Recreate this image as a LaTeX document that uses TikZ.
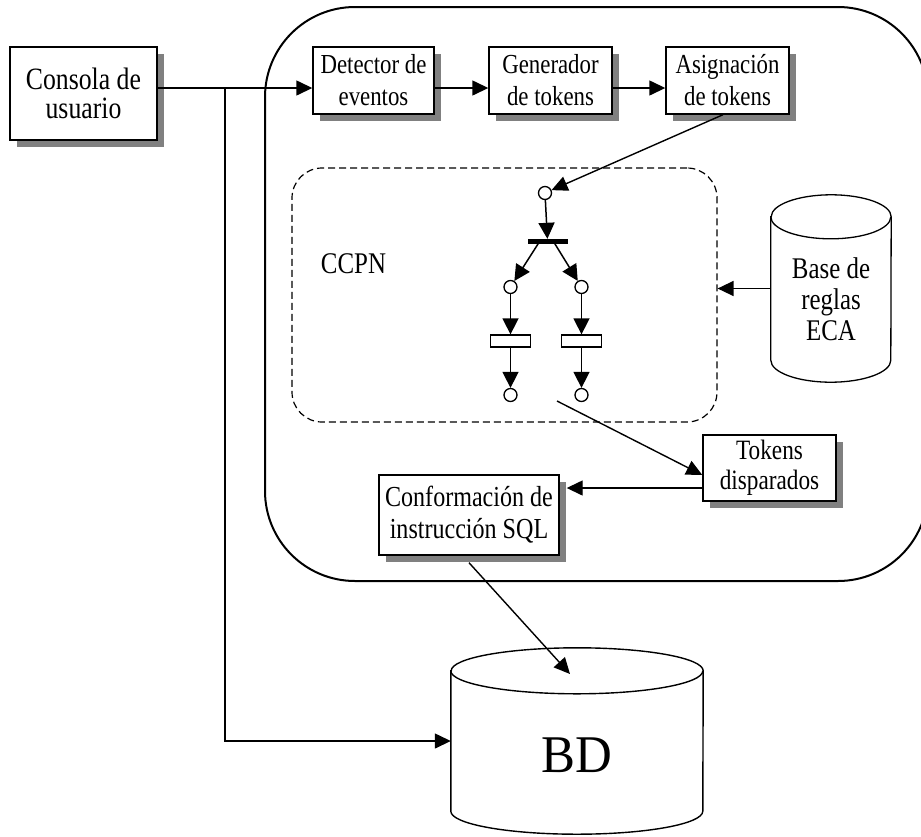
\documentclass[tikz,border=0pt]{standalone}
\usepackage{fontspec}
\setmainfont{Liberation Serif}[FakeStretch=0.83]
\newfontfamily\bdfont{Liberation Serif}[FakeStretch=0.96]
\usetikzlibrary{arrows.meta,shadows,calc}
\begin{document}
\begin{tikzpicture}[x=1pt,y=-1pt,
  box/.style={draw,line width=1.4pt,fill=white,inner sep=0pt,align=center,
    drop shadow={shadow xshift=7pt,shadow yshift=-7pt,fill=black!50,opacity=1}},
  arr/.style={line width=1.4pt,-{Triangle[length=16pt,width=15pt]}},
  parr/.style={line width=1.5pt,-{Triangle[length=16pt,width=16pt]}},
  place/.style={draw,circle,line width=1.3pt,minimum size=13pt,inner sep=0pt,fill=white},
  trans/.style={draw,line width=1.3pt,minimum width=40pt,minimum height=12pt,inner sep=0pt,fill=white},
  fA/.style={font=\fontsize{27.5}{32}\selectfont},
  fB/.style={font=\fontsize{31}{29}\selectfont},
  fC/.style={font=\fontsize{29}{32}\selectfont},
  fT/.style={font=\fontsize{28}{30}\selectfont},
  fE/.style={font=\fontsize{30}{31}\selectfont},
]
\useasboundingbox (0,0) rectangle (921,836);
\clip (0,0) rectangle (921,836);

% outer system boundary
\node[draw,line width=2pt,rounded corners=90pt,minimum width=663pt,minimum height=574pt,inner sep=0pt] (sys) at (596.5,294) {};
% CCPN dashed region
\node[draw,line width=1.2pt,dash pattern=on 7pt off 4pt,rounded corners=30pt,minimum width=425pt,minimum height=254pt,inner sep=0pt] (ccpn) at (504.5,295) {};
\node[font=\fontsize{30}{31}\selectfont,anchor=base] (lbl) at (353.5,273) {CCPN};

% boxes
\node[box,fB,minimum width=147pt,minimum height=93pt] (cons) at (83.5,93.5) {Consola de\\usuario};
\node[box,fA,minimum width=121pt,minimum height=67pt] (det) at (373.5,80.5) {Detector de\\eventos};
\node[box,fA,minimum width=123pt,minimum height=67pt] (gen) at (550.5,80.5) {Generador\\de tokens};
\node[box,fA,minimum width=123pt,minimum height=67pt] (asig) at (727.5,80.5) {Asignación\\de tokens};
\node[box,fC,minimum width=180pt,minimum height=80pt] (conf) at (469,515) {Conformación de\\instrucción SQL};
\node[box,fT,minimum width=133pt,minimum height=66pt] (tok) at (769.5,468) {Tokens\\disparados};

% ECA cylinder
\node[minimum width=120pt,minimum height=187pt,inner sep=0pt] (eca) at (831,288.5) {};
\draw[line width=1.3pt,fill=white] ([yshift=-22pt]eca.north west) -- ([yshift=22pt]eca.south west)
  arc[start angle=180,end angle=360,x radius=60pt,y radius=22pt] -- ([yshift=-22pt]eca.north east)
  arc[start angle=0,end angle=180,x radius=60pt,y radius=22pt] -- cycle;
\draw[line width=1.3pt] ([yshift=-22pt]eca.north west) arc[start angle=180,end angle=360,x radius=60pt,y radius=22pt];
\node[fE,align=center] (ecat) at (831,299) {Base de\\reglas\\ECA};

% BD cylinder
\node[minimum width=252pt,minimum height=186pt,inner sep=0pt] (bd) at (577,741) {};
\draw[line width=1.4pt,fill=white] ([yshift=-23pt]bd.north west) -- ([yshift=23pt]bd.south west)
  arc[start angle=180,end angle=360,x radius=126pt,y radius=23pt] -- ([yshift=-23pt]bd.north east)
  arc[start angle=0,end angle=180,x radius=126pt,y radius=23pt] -- cycle;
\draw[line width=1.4pt] ([yshift=-23pt]bd.north west) arc[start angle=180,end angle=360,x radius=126pt,y radius=23pt];
\node[anchor=base,font=\bdfont\fontsize{53}{60}\selectfont] (bdt) at (577,772) {BD};

% Petri net
\node[place] (p0) at (545,193) {};
\node[draw,fill=black,minimum width=39pt,minimum height=4pt,inner sep=0pt] (t0) at (547.5,241) {};
\node[place] (p1) at (510.5,287) {};
\node[place] (p2) at (581.5,287) {};
\node[trans] (t1) at (510.5,341) {};
\node[trans] (t2) at (581.5,341) {};
\node[place] (p3) at (510.5,395) {};
\node[place] (p4) at (581.5,395) {};

% connectors
\coordinate (j) at (225,88);
\draw[arr] (cons.east |- j) -- (det.west |- j);
\draw[arr] (j) |- (bd.west);
\draw[arr] (det.east |- j) -- (gen.west |- j);
\draw[arr] (gen.east |- j) -- (asig.west |- j);
\draw[arr] ([xshift=-4.5pt]asig.south) -- (p0);
\draw[parr] (p0) -- (t0);
\draw[parr] ($(t0.south)+(-9,0)$) -- (p1);
\draw[parr] ($(t0.south)+(7,0)$) -- (p2);
\draw[parr] (p1) -- (t1);
\draw[parr] (t1) -- (p3);
\draw[parr] (p2) -- (t2);
\draw[parr] (t2) -- (p4);
\draw[arr] (eca.west) -- (ccpn.east |- eca.west);
\coordinate (cco) at (557,401);
\draw[arr] (cco) -- ([yshift=-7pt]tok.west);
\coordinate (tk) at ([yshift=-20pt]tok.west);
\draw[arr] (tk) -- ([xshift=7pt]conf.east |- tk);
\coordinate (bdin) at (570,674);
\draw[arr] ([yshift=-7pt]conf.south) -- (bdin);
\end{tikzpicture}
\end{document}
